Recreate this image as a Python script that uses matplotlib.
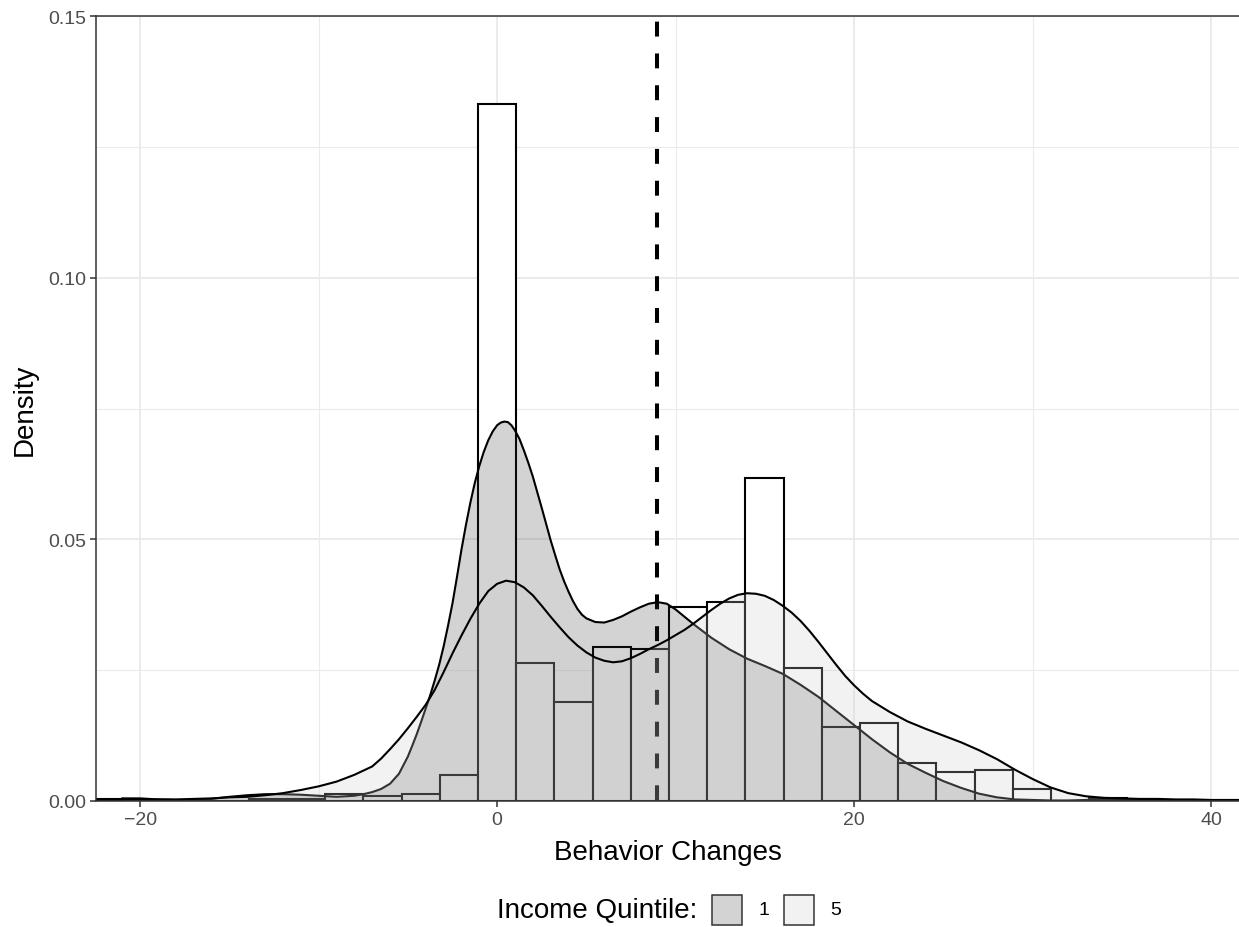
import matplotlib
matplotlib.use("Agg")
import matplotlib.pyplot as plt
from matplotlib.patches import Rectangle
from matplotlib.ticker import FixedLocator

plt.rcParams['font.family'] = ['Liberation Sans', 'DejaVu Sans']

# ---- data -------------------------------------------------------------
bin_width = 2.14
bin_index = list(range(-10, 18))          # bin k is centred on k * bin_width
hist_density = [0.0004, 0.0002, 0.0, 0.0, 0.0003, 0.0003, 0.0013, 0.0009,
                0.0013, 0.0050, 0.1331, 0.0263, 0.0190, 0.0294, 0.0290,
                0.0370, 0.0381, 0.0617, 0.0254, 0.0141, 0.0150, 0.0073,
                0.0055, 0.0060, 0.0023, 0.0, 0.0005, 0.0002]

q1_x = [-21, -20, -19, -18, -17, -16, -15, -14, -13, -12, -11, -10, -9, -8,
        -7.5, -7, -6.5, -6, -5.5, -5, -4.75, -4.5, -4.25, -4, -3.75, -3.5,
        -3.25, -3, -2.75, -2.5, -2.25, -2, -1.75, -1.5, -1.25, -1, -0.75,
        -0.5, -0.25, 0, 0.2, 0.4, 0.6, 0.8, 1, 1.25, 1.5, 1.75, 2, 2.25, 2.5,
        2.75, 3, 3.25, 3.5, 3.75, 4, 4.25, 4.5, 4.75, 5, 5.5, 6, 6.5, 7, 7.5,
        8, 8.5, 9, 9.5, 10, 10.5, 11, 12, 13, 14, 15, 16, 17, 18, 19, 20, 21,
        22, 23, 24, 25, 26, 27, 28, 29, 30, 31, 32, 33, 34, 35, 36, 37, 38,
        40, 42]
q1_y = [0.0005, 0.0005, 0.0003, 0.0002, 0.0002, 0.0004, 0.0008, 0.0011,
        0.0013, 0.0013, 0.0012, 0.0010, 0.0008, 0.0010, 0.0013, 0.0017,
        0.0023, 0.0033, 0.0052, 0.0085, 0.0106, 0.0128, 0.0152, 0.0177,
        0.0202, 0.0230, 0.0260, 0.0295, 0.0335, 0.0378, 0.0428, 0.0480,
        0.0527, 0.0570, 0.0608, 0.0640, 0.0667, 0.0689, 0.0706, 0.0718,
        0.0723, 0.0725, 0.0724, 0.0718, 0.0708, 0.0692, 0.0670, 0.0646,
        0.0620, 0.0590, 0.0560, 0.0529, 0.0498, 0.0470, 0.0443, 0.0420,
        0.0400, 0.0382, 0.0367, 0.0356, 0.0349, 0.0342, 0.0341, 0.0346,
        0.0353, 0.0362, 0.0370, 0.0377, 0.0380, 0.0377, 0.0366, 0.0352,
        0.0338, 0.0312, 0.0290, 0.0272, 0.0258, 0.0243, 0.0222, 0.0199,
        0.0172, 0.0145, 0.0118, 0.0093, 0.0071, 0.0054, 0.0038, 0.0025,
        0.0014, 0.0007, 0.0003, 0.0002, 0.0001, 0.0001, 0.0002, 0.0003,
        0.0003, 0.0002, 0.0001, 0.0001, 0.0001, 0.0001]

q5_x = [-21, -20, -19, -18, -17, -16, -15, -14, -13, -12, -11, -10, -9, -8,
        -7, -6.5, -6, -5.5, -5, -4.5, -4, -3.5, -3, -2.5, -2, -1.5, -1, -0.5,
        0, 0.5, 1, 1.5, 2, 2.5, 3, 3.5, 4, 4.5, 5, 5.5, 6, 6.5, 7, 7.5, 8,
        8.5, 9, 9.5, 10, 10.5, 11, 11.5, 12, 12.5, 13, 13.5, 14, 14.5, 15,
        15.5, 16, 16.5, 17, 17.5, 18, 18.5, 19, 19.5, 20, 20.5, 21, 22, 23,
        24, 25, 26, 27, 28, 29, 30, 31, 32, 33, 34, 35, 36, 37, 38, 39, 40,
        42]
q5_y = [0.0003, 0.0003, 0.0003, 0.0003, 0.0004, 0.0005, 0.0007, 0.0008,
        0.0011, 0.0015, 0.0021, 0.0028, 0.0037, 0.0050, 0.0066, 0.0081,
        0.0099, 0.0118, 0.0139, 0.0161, 0.0184, 0.0212, 0.0246, 0.0282,
        0.0316, 0.0348, 0.0377, 0.0401, 0.0415, 0.0421, 0.0418, 0.0408,
        0.0393, 0.0373, 0.0352, 0.0332, 0.0313, 0.0297, 0.0284, 0.0274,
        0.0268, 0.0265, 0.0267, 0.0273, 0.0281, 0.0290, 0.0298, 0.0307,
        0.0317, 0.0327, 0.0339, 0.0352, 0.0365, 0.0377, 0.0387, 0.0394,
        0.0397, 0.0396, 0.0392, 0.0384, 0.0373, 0.0360, 0.0344, 0.0325,
        0.0304, 0.0282, 0.0260, 0.0239, 0.0221, 0.0205, 0.0191, 0.0170,
        0.0152, 0.0138, 0.0125, 0.0112, 0.0097, 0.0080, 0.0060, 0.0042,
        0.0026, 0.0015, 0.0009, 0.0006, 0.0005, 0.0004, 0.0004, 0.0003,
        0.0003, 0.0002, 0.0002]

mean_change = 8.96
x_ticks = [-20, 0, 20, 40]
x_minor = [-10, 10, 30]
y_ticks = [0.00, 0.05, 0.10, 0.15]
y_minor = [0.025, 0.075, 0.125]
quintile_labels = ['1', '5']
quintile_fills = [(0.2, 0.2, 0.2, 0.21), (0.8, 0.8, 0.8, 0.25)]

# ---- figure -----------------------------------------------------------
W, H = 1239, 928
fig = plt.figure(figsize=(W / 100, H / 100), dpi=100)
px_l, px_r, px_t, px_b = 95.5, 1240.5, 17, 802
ax = fig.add_axes([px_l / W, 1 - px_b / H, (px_r - px_l) / W, (px_b - px_t) / H])
ax.set_xlim(-22.5, -22.5 + (px_r - px_l) / 17.85)
ax.set_ylim(0, 0.15)

grid_col = '#EBEBEB'
for v in x_ticks:
    ax.axvline(v, color=grid_col, lw=1.4, zorder=0)
for v in x_minor:
    ax.axvline(v, color=grid_col, lw=0.8, zorder=0)
for v in y_ticks:
    ax.axhline(v, color=grid_col, lw=1.4, zorder=0)
for v in y_minor:
    ax.axhline(v, color=grid_col, lw=0.8, zorder=0)

# histogram of all responses
centers = [k * bin_width for k in bin_index]
ax.bar(centers, hist_density, width=bin_width, color='white',
       edgecolor='black', linewidth=1.5, zorder=2)

# mean line
ax.plot([mean_change, mean_change], [0.15, 0.0], color='black', lw=2.9,
        ls=(6.5, (3.7, 4.2)), zorder=3, solid_capstyle='butt',
        dash_capstyle='butt')

# densities by quintile
for i, (xs, ys) in enumerate([(q1_x, q1_y), (q5_x, q5_y)]):
    ax.fill_between(xs, 0, ys, facecolor=quintile_fills[i], linewidth=0,
                    zorder=4 + 2 * i)
    ax.plot(xs, ys, color='black', lw=1.5, zorder=5 + 2 * i,
            solid_joinstyle='round')

# axes styling
for side in ['left', 'bottom', 'top', 'right']:
    ax.spines[side].set_color('#333333')
    ax.spines[side].set_linewidth(1.1)
    ax.spines[side].set_zorder(10)
ax.xaxis.set_major_locator(FixedLocator(x_ticks))
ax.yaxis.set_major_locator(FixedLocator(y_ticks))
ax.set_xticklabels([str(v).replace('-', '\u2212') for v in x_ticks])
ax.set_yticklabels(['%.2f' % v for v in y_ticks])
ax.tick_params(axis='both', colors='#333333', length=4, width=1.1,
               labelsize=14, labelcolor='#4D4D4D', pad=3)
ax.set_xlabel('Behavior Changes', fontsize=20, labelpad=8)
ax.set_ylabel('Density', fontsize=20, labelpad=7)

# legend
leg_y = 911
fig.text(497 / W, 1 - leg_y / H, 'Income Quintile:', fontsize=20,
         ha='left', va='center')
key_x = [712, 784]
lab_x = [759, 830]
for i in range(2):
    fig.add_artist(Rectangle((key_x[i] / W, 1 - (leg_y + 15) / H), 30 / W, 30 / H,
                             transform=fig.transFigure, facecolor=quintile_fills[i],
                             edgecolor='#333333', linewidth=1.1))
    fig.text(lab_x[i] / W, 1 - leg_y / H, quintile_labels[i], fontsize=14,
             ha='left', va='center')

fig.savefig('out.png', dpi=100)
